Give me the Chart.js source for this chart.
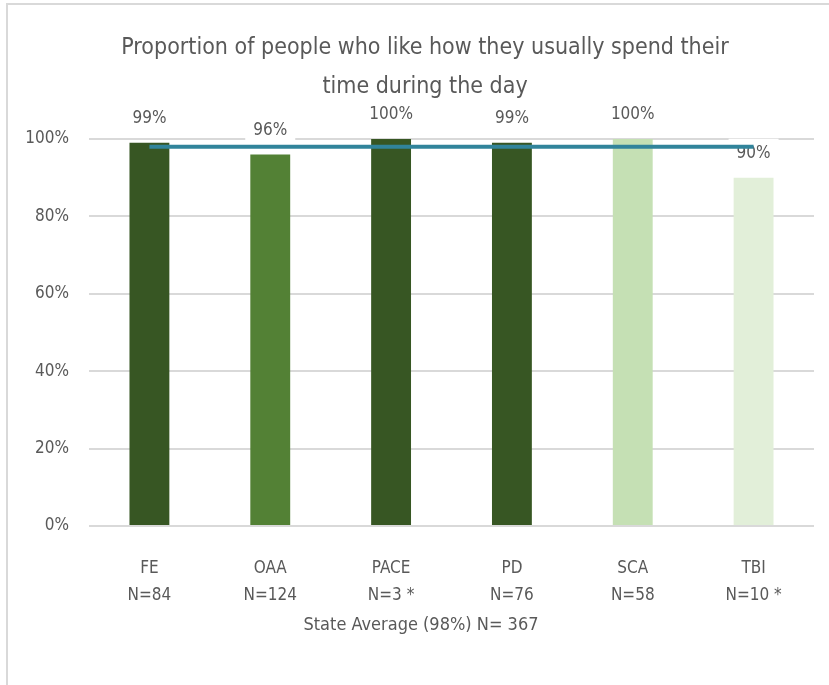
<!DOCTYPE html>
<html>
<head>
<meta charset="utf-8">
<script src="https://cdn.jsdelivr.net/npm/chart.js@4/dist/chart.umd.min.js"></script>
<style>
  body { margin: 0; background: #fff; }
  .frame { position: absolute; left: 6px; top: 3px; width: 900px; height: 800px; border: 2px solid #d9d9d9; }
  #chart { position: absolute; left: 0; top: 0; }
</style>
</head>
<body>
<div class="frame"></div>
<canvas id="chart" width="829" height="685"></canvas>
<script>
// chart data
const categories = [['FE', 'N=84'], ['OAA', 'N=124'], ['PACE', 'N=3 *'], ['PD', 'N=76'], ['SCA', 'N=58'], ['TBI', 'N=10 *']];
const values = [99, 96, 100, 99, 100, 90];
const stateAverage = [98, 98, 98, 98, 98, 98];
const barColors = ['#375623', '#538135', '#375623', '#375623', '#c5e0b4', '#e2efd9'];
const yTicks = [0, 20, 40, 60, 80, 100];
const titleLines = ['Proportion of people who like how they usually spend their', 'time during the day'];
const xAxisTitle = 'State Average (98%) N= 367';

const fontFamily = "'Liberation Sans Narrow', 'DejaVu Sans Condensed', sans-serif";
const textColor = '#595959';

// labels above bars, with white box behind (drawn under the datasets)
const barLabels = {
  id: 'barLabels',
  beforeDatasetsDraw(chart) {
    const ctx = chart.ctx;
    const meta = chart.getDatasetMeta(1);
    ctx.save();
    ctx.font = '17px ' + fontFamily;
    ctx.textAlign = 'center';
    ctx.textBaseline = 'middle';
    meta.data.forEach((bar, i) => {
      const y = bar.y - 24;
      ctx.fillStyle = '#fff';
      ctx.fillRect(bar.x - 25, y - 15, 50, 30);
      ctx.fillStyle = textColor;
      ctx.fillText(values[i] + '%', bar.x, y);
    });
    ctx.restore();
  }
};

// title and axis title are centred on the whole frame, not on the plot
const chartTitle = {
  id: 'chartTitle',
  afterDraw(chart) {
    const ctx = chart.ctx;
    ctx.save();
    ctx.fillStyle = textColor;
    ctx.textAlign = 'center';
    ctx.textBaseline = 'middle';
    ctx.font = '23px ' + fontFamily;
    titleLines.forEach((line, i) => ctx.fillText(line, 425, 48 + i * 39));
    ctx.font = '18px ' + fontFamily;
    ctx.fillText(xAxisTitle, 421, chart.scales.x.bottom - 12);
    ctx.restore();
  }
};

const chartEl = document.getElementById('chart');
if (chartEl) {
  new Chart(chartEl, {
    data: {
      labels: categories,
      datasets: [
        {
          type: 'line',
          data: stateAverage,
          borderColor: '#31849b',
          borderWidth: 4,
          pointRadius: 0,
          order: 0
        },
        {
          type: 'bar',
          data: values,
          backgroundColor: barColors,
          categoryPercentage: 1,
          barPercentage: 0.33,
          order: 1
        }
      ]
    },
    options: {
      responsive: false,
      animation: false,
      layout: {
        padding: { top: 139, right: 15, bottom: 48, left: 0 }
      },
      plugins: {
        legend: { display: false },
        tooltip: { enabled: false }
      },
      scales: {
        x: {
          afterFit(scale) {
            scale.height = 111;
          },
          grid: { display: false },
          border: { display: false },
          ticks: {
            color: textColor,
            padding: 21,
            font: { family: fontFamily, size: 17, lineHeight: 1.6 }
          }
        },
        y: {
          min: 0,
          max: 100,
          afterBuildTicks(scale) {
            scale.ticks = yTicks.map(v => ({ value: v }));
          },
          afterFit(scale) {
            scale.width = 89;
          },
          grid: { color: '#d9d9d9', lineWidth: 2, drawTicks: false },
          border: { display: false },
          ticks: {
            color: textColor,
            padding: 20,
            font: { family: fontFamily, size: 17 },
            callback: v => v + '%'
          }
        }
      }
    },
    plugins: [barLabels, chartTitle]
  });
}
</script>
</body>
</html>
